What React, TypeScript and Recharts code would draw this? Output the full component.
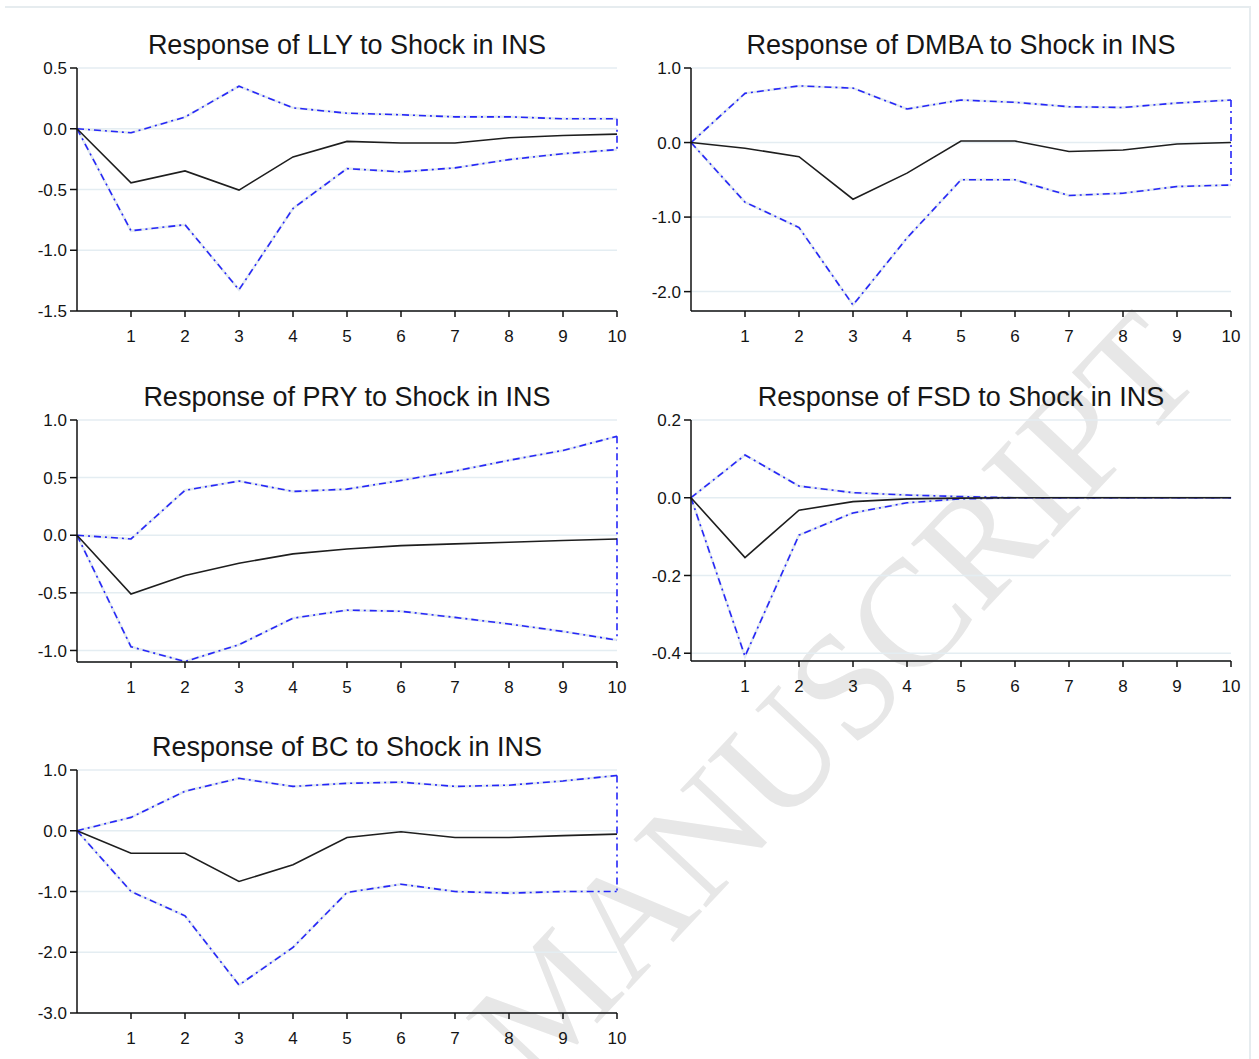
import React from 'react';
import { LineChart, Line, XAxis, YAxis, CartesianGrid, ReferenceLine } from 'recharts';

// Impulse response horizon (period 0 is the starting point of every path)
const periods = [0, 1, 2, 3, 4, 5, 6, 7, 8, 9, 10];
const xTicks = [1, 2, 3, 4, 5, 6, 7, 8, 9, 10];

// LLY
const llyResponse = [0, -0.445, -0.347, -0.505, -0.232, -0.104, -0.117, -0.117, -0.074, -0.055, -0.044];
const llyUpper = [0, -0.033, 0.096, 0.35, 0.172, 0.128, 0.115, 0.098, 0.098, 0.082, 0.082];
const llyLower = [0, -0.84, -0.79, -1.325, -0.656, -0.328, -0.355, -0.322, -0.254, -0.205, -0.172];

// DMBA
const dmbaResponse = [0, -0.076, -0.19, -0.76, -0.41, 0.02, 0.02, -0.12, -0.1, -0.02, 0.0];
const dmbaUpper = [0, 0.66, 0.76, 0.73, 0.45, 0.57, 0.54, 0.48, 0.47, 0.53, 0.57];
const dmbaLower = [0, -0.8, -1.14, -2.18, -1.28, -0.5, -0.5, -0.71, -0.68, -0.59, -0.57];

// PRY
const pryResponse = [0, -0.51, -0.35, -0.243, -0.162, -0.119, -0.09, -0.075, -0.061, -0.046, -0.032];
const pryUpper = [0, -0.032, 0.39, 0.47, 0.38, 0.4, 0.475, 0.557, 0.65, 0.736, 0.858];
const pryLower = [0, -0.968, -1.096, -0.95, -0.72, -0.65, -0.66, -0.713, -0.77, -0.835, -0.91];

// FSD
const fsdResponse = [0, -0.154, -0.032, -0.01, -0.003, -0.001, 0, 0, 0, 0, 0];
const fsdUpper = [0, 0.11, 0.03, 0.013, 0.007, 0.003, 0, 0, 0, 0, 0];
const fsdLower = [0, -0.408, -0.096, -0.039, -0.013, -0.003, 0, 0, 0, 0, 0];

// BC
const bcResponse = [0, -0.37, -0.37, -0.835, -0.56, -0.11, -0.016, -0.11, -0.11, -0.08, -0.055];
const bcUpper = [0, 0.22, 0.65, 0.863, 0.73, 0.78, 0.8, 0.73, 0.75, 0.82, 0.91];
const bcLower = [0, -1.0, -1.4, -2.54, -1.92, -1.016, -0.88, -1.0, -1.027, -1.0, -1.0];

const BAND_BLUE = '#2626f8';
const HALO = '#e2eaef';
const FONT = '"Liberation Sans", Arial, sans-serif';

const buildRows = (resp: number[], upper: number[], lower: number[]) =>
  periods.map((p, i) => ({ period: p, response: resp[i], upper: upper[i], lower: lower[i] }));

type PanelProps = {
  title: string;
  response: number[];
  upper: number[];
  lower: number[];
  domain: [number, number];
  ticks: number[];
  left: number;
  top: number;
  height: number;
};

const Panel = ({ title, response, upper, lower, domain, ticks, left, top, height }: PanelProps) => {
  const data = buildRows(response, upper, lower);
  const last = periods.length - 1;
  const tickStyle = { fontSize: 17, fill: '#141414', fontFamily: FONT };
  return (
    <div style={{ position: 'absolute', left, top, width: 619, height }}>
      <div
        style={{
          position: 'absolute',
          left: 67,
          width: 540,
          top: -28,
          textAlign: 'center',
          fontFamily: FONT,
          fontSize: 27,
          lineHeight: '30px',
          color: '#161616',
          whiteSpace: 'nowrap',
        }}
      >
        {title}
      </div>
      <LineChart width={619} height={height} data={data} margin={{ top: 10, right: 12, bottom: 0, left: 0 }}>
        <CartesianGrid vertical={false} stroke="#e4edf2" strokeWidth={1.5} />
        <XAxis
          dataKey="period"
          type="number"
          domain={[0, 10]}
          ticks={xTicks}
          height={40}
          tickSize={6}
          tickMargin={13}
          tick={tickStyle}
          axisLine={{ stroke: '#111', strokeWidth: 1.5 }}
          tickLine={{ stroke: '#111', strokeWidth: 1.5 }}
          interval={0}
        />
        <YAxis
          type="number"
          domain={domain}
          ticks={ticks}
          allowDataOverflow
          width={67}
          tickSize={7}
          tickMargin={3}
          tick={tickStyle}
          tickFormatter={(v: number) => v.toFixed(1)}
          axisLine={{ stroke: '#111', strokeWidth: 1.5 }}
          tickLine={{ stroke: '#111', strokeWidth: 1.5 }}
          interval={0}
        />
        {/* pale continuous trace behind the dash-dot bands */}
        <Line dataKey="upper" stroke={HALO} strokeWidth={2.5} dot={false} isAnimationActive={false} />
        <Line dataKey="lower" stroke={HALO} strokeWidth={2.5} dot={false} isAnimationActive={false} />
        <Line dataKey="upper" stroke={BAND_BLUE} strokeWidth={1.6} strokeDasharray="7 4 2 4" dot={false} isAnimationActive={false} />
        <Line dataKey="lower" stroke={BAND_BLUE} strokeWidth={1.6} strokeDasharray="7 4 2 4" dot={false} isAnimationActive={false} />
        <ReferenceLine
          segment={[
            { x: periods[last], y: upper[last] },
            { x: periods[last], y: lower[last] },
          ]}
          stroke={BAND_BLUE}
          strokeWidth={1.6}
          strokeDasharray="7 4 2 4"
        />
        <Line dataKey="response" stroke="#1e1e1e" strokeWidth={1.6} dot={false} isAnimationActive={false} />
      </LineChart>
    </div>
  );
};

const App = () => {
  return (
    <div style={{ position: 'absolute', left: 0, top: 0, width: 1259, height: 1059, background: '#fff', overflow: 'hidden' }}>
      {/* page frame */}
      <div style={{ position: 'absolute', left: 5, top: 6, width: 1244, height: 1100, borderTop: '2px solid #e6ecef', borderRight: '2px solid #e6ecef' }} />
      {/* background stamp */}
      <svg width={1259} height={1059} style={{ position: 'absolute', left: 0, top: 0 }}>
        <text
          x={1206}
          y={375}
          textAnchor="end"
          transform="rotate(-46.8 1206 375)"
          fontFamily='"Liberation Serif", "Times New Roman", serif'
          fontSize={152}
          fill="#e7e7e7"
        >
          ACCEPTED MANUSCRIPT
        </text>
      </svg>
      <Panel title="Response of LLY to Shock in INS" response={llyResponse} upper={llyUpper} lower={llyLower}
        domain={[-1.5, 0.5]} ticks={[-1.5, -1.0, -0.5, 0.0, 0.5]} left={10} top={58} height={293} />
      <Panel title="Response of DMBA to Shock in INS" response={dmbaResponse} upper={dmbaUpper} lower={dmbaLower}
        domain={[-2.26, 1.0]} ticks={[-2.0, -1.0, 0.0, 1.0]} left={624} top={58} height={293} />
      <Panel title="Response of PRY to Shock in INS" response={pryResponse} upper={pryUpper} lower={pryLower}
        domain={[-1.1, 1.0]} ticks={[-1.0, -0.5, 0.0, 0.5, 1.0]} left={10} top={410} height={292} />
      <Panel title="Response of FSD to Shock in INS" response={fsdResponse} upper={fsdUpper} lower={fsdLower}
        domain={[-0.42, 0.2]} ticks={[-0.4, -0.2, 0.0, 0.2]} left={624} top={410} height={291} />
      <Panel title="Response of BC to Shock in INS" response={bcResponse} upper={bcUpper} lower={bcLower}
        domain={[-3.0, 1.0]} ticks={[-3.0, -2.0, -1.0, 0.0, 1.0]} left={10} top={760} height={293} />
    </div>
  );
};

export default App;
